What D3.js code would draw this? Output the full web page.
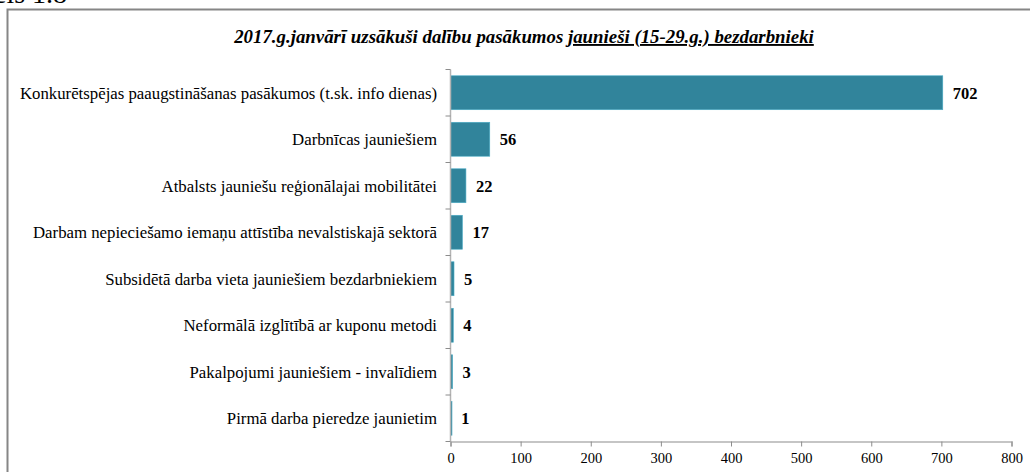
<!DOCTYPE html>
<html><head><meta charset="utf-8">
<script src="https://cdn.jsdelivr.net/npm/d3@7"></script>
<style>
html,body{margin:0;padding:0;background:#fff;overflow:hidden;}
svg{display:block;}
</style></head>
<body>
<svg id="c" width="1030" height="472"></svg>
<script>
const categories = [
  "Konkurētspējas paaugstināšanas pasākumos (t.sk. info dienas)",
  "Darbnīcas jauniešiem",
  "Atbalsts jauniešu reģionālajai mobilitātei",
  "Darbam nepieciešamo iemaņu attīstība nevalstiskajā sektorā",
  "Subsidētā darba vieta jauniešiem bezdarbniekiem",
  "Neformālā izglītībā ar kuponu metodi",
  "Pakalpojumi jauniešiem - invalīdiem",
  "Pirmā darba pieredze jaunietim"
];
const values = [702, 56, 22, 17, 5, 4, 3, 1];
const xTicks = [0, 100, 200, 300, 400, 500, 600, 700, 800];
const titleMain = "2017.g.janvārī uzsākuši dalību pasākumos ";
const titleUnder = "jaunieši (15-29.g.) bezdarbnieki";
const captionTop = "ēls 1.8";

const FONT = "Liberation Serif";
const svg = d3.select("#c");

// cut-off caption at top
svg.append("text").attr("x", -6).attr("y", 3).attr("font-size", 28)
  .attr("font-family", FONT).attr("fill", "#000").text(captionTop);

// chart frame
svg.append("rect").attr("x", 7.5).attr("y", 9.5).attr("width", 1040).attr("height", 480)
  .attr("fill", "#fff").attr("stroke", "#868686").attr("stroke-width", 2);

const x = d3.scaleLinear().domain([0, 800]).range([450.5, 1011.5]);
const y = d3.scaleBand().domain(categories).range([69.5, 441.5]).paddingInner(0.27).paddingOuter(0.135);
const yEdges = d3.scaleBand().domain(categories).range([69.5, 441.5]);

// title
const t = svg.append("text").attr("x", 524).attr("y", 43).attr("text-anchor", "middle")
  .attr("font-family", FONT).attr("font-size", 17).attr("font-weight", "bold").attr("font-style", "italic");
t.append("tspan").text(titleMain);
t.append("tspan").attr("text-decoration", "underline").text(titleUnder);
const tw = t.node().getComputedTextLength();
t.attr("font-size", 17 * 580 / tw);

// bars
svg.append("g").selectAll("rect").data(values).join("rect")
  .attr("x", x(0))
  .attr("y", (d, i) => y(categories[i]))
  .attr("width", d => Math.max(1.5, x(d) - x(0)))
  .attr("height", y.bandwidth())
  .attr("fill", "#31849b")
  .attr("stroke", "#4bacc6").attr("stroke-width", 0.6);

// value labels
svg.append("g").selectAll("text").data(values).join("text")
  .attr("x", d => x(d) + 10)
  .attr("y", (d, i) => y(categories[i]) + y.bandwidth() / 2)
  .attr("dy", "0.35em")
  .attr("font-family", FONT).attr("font-size", 16.5).attr("font-weight", "bold")
  .text(d => d);

// x axis
const xAxis = svg.append("g").attr("transform", "translate(0,441.5)")
  .call(d3.axisBottom(x).tickValues(xTicks).tickSize(5).tickPadding(6));
xAxis.attr("font-family", FONT);
xAxis.select(".domain").attr("stroke", "#b3b3b3").attr("stroke-width", 1.5);
xAxis.selectAll(".tick line").attr("stroke", "#8c8c8c");
xAxis.selectAll(".tick text").attr("font-size", 14.5).attr("fill", "#000")
  .attr("font-family", FONT);

// y axis line and category separator ticks
svg.append("line").attr("x1", x(0)).attr("x2", x(0)).attr("y1", 69.5).attr("y2", 441.5)
  .attr("stroke", "#b3b3b3").attr("stroke-width", 1.5);
const edges = categories.map(c => yEdges(c)).concat([441.5]);
svg.append("g").selectAll("line").data(edges).join("line")
  .attr("x1", x(0) - 5).attr("x2", x(0)).attr("y1", d => d).attr("y2", d => d)
  .attr("stroke", "#8c8c8c");

// category labels
svg.append("g").selectAll("text").data(categories).join("text")
  .attr("x", 437).attr("y", c => y(c) + y.bandwidth() / 2).attr("dy", "0.35em")
  .attr("text-anchor", "end").attr("font-family", FONT).attr("font-size", 16.8).attr("fill", "#000")
  .text(c => c);
</script>
</body></html>
